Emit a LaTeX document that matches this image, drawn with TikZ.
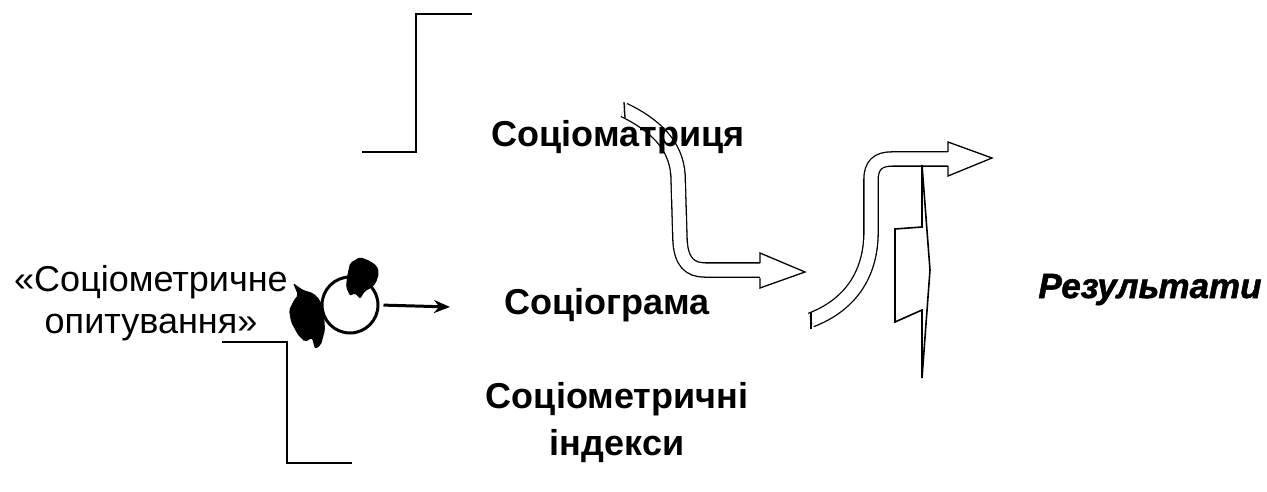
\documentclass[tikz,border=0pt]{standalone}
\usepackage{fontspec}
\setmainfont{Liberation Sans}
\newfontfamily\resultfont[FakeBold=1.5]{Liberation Sans}
\usetikzlibrary{arrows.meta}

\begin{document}
\begin{tikzpicture}[x=1pt, y=-1pt,
    bracketline/.style={line width=1.4pt, draw=black},
    hollowarrow/.style={double=white, double distance=13pt, line width=1.3pt, draw=black},
    arrowhead/.style={line width=1.3pt, fill=white, draw=black, line join=miter},
    boltline/.style={line width=1.6pt, draw=black, line join=miter},
    labelbold/.style={font=\fontsize{36}{40}\selectfont\bfseries, inner sep=0pt},
    labelplain/.style={font=\fontsize{36}{42}\selectfont, align=center, inner sep=0pt}
]
    \useasboundingbox (0,0) rectangle (1267,492);

    % Hollow arrow from the matrix
    \draw[hollowarrow] (624,110) .. controls (655,125) and (676,145) .. (678,175)
        -- (680,240) .. controls (681,262) and (690,270) .. (705,270) -- (762,270);
    \draw[line width=1.3pt] (624,102) -- (625,118);
    \draw[arrowhead] (760,263) -- (760,253) -- (805,272) -- (760,288) -- (760,278);

    % Hollow arrow to the results
    \draw[hollowarrow] (811,320) .. controls (850,305) and (870,275) .. (871,235)
        -- (871,180) .. controls (871,165) and (878,159) .. (892,159) -- (950,159);
    \draw[line width=1.3pt] (811,312) -- (811,329);
    \draw[arrowhead] (948,152) -- (948,142) -- (992,158) -- (948,176) -- (948,166);

    % Bolt
    \draw[boltline] (922,165) -- (930,270) -- (922,378) -- (922,310) -- (895,322)
        -- (895,229) -- (922,227) -- cycle;

    % Left side - survey
    \node[labelplain, anchor=north] (surveytext) at (151,265) {«Соціометричне\\опитування»};
    \node[circle, draw, line width=3pt, minimum size=56pt, inner sep=0pt] (survey) at (350,305) {};
    \fill[black, rounded corners=2pt] (293,283) -- (303,290) -- (313,293) -- (320,300) -- (324,313)
        -- (325,330) -- (321,345) -- (315,349) -- (312,338) -- (305,342) -- (298,335) -- (291,322)
        -- (289,310) -- (294,300) -- (298,295) -- cycle;
    \fill[black, rounded corners=2pt] (350,263) -- (360,257) -- (370,261) -- (377,266) -- (379,273)
        -- (376,283) -- (371,288) -- (365,291) -- (360,299) -- (355,293) -- (350,296) -- (346,287)
        -- (347,277) -- cycle;
    \coordinate (surveyend) at (450,307);
    \draw[line width=3pt, shorten <=4pt, -{Stealth[length=16pt, width=13pt]}] (survey.east) -- (surveyend);

    % Brackets
    \draw[bracketline] (472,14) -- (416,14) -- (416,152) -- (362,152);
    \draw[bracketline] (222,342) -- (287,342) -- (287,463) -- (352,463);

    % Middle labels
    \node[labelbold, anchor=base] (matrix) at (618,147) {Соціоматриця};
    \node[labelbold, anchor=base] (gram) at (607,314) {Соціограма};
    \node[labelbold, anchor=base] (indices) at (617,408) {Соціометричні};
    \node[labelbold, anchor=base] (indices2) at (617,455) {індекси};

    % Result
    \node[font=\fontsize{35}{40}\selectfont\resultfont\bfseries\itshape, inner sep=0pt, anchor=base]
        (result) at (1150,298) {Результати};
\end{tikzpicture}
\end{document}
